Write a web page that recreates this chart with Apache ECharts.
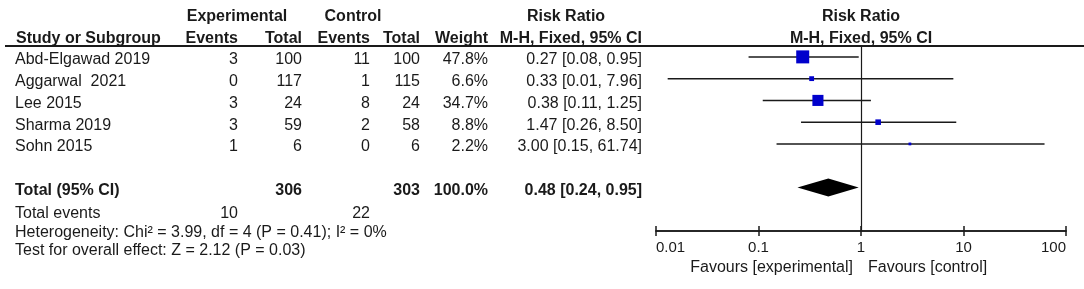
<!DOCTYPE html>
<html lang="en" style="height: 100%">
<head>
    <meta charset="UTF-8">
    <title>Forest plot</title>
    <script src="https://cdn.jsdelivr.net/npm/echarts@6/dist/echarts.min.js"></script>
</head>
<body style="height: 100%; margin: 0; background: #fff">
    <div id="main" style="width: 1084px; height: 289px"></div>
    <script>
        // study data
        var studies = ['Abd-Elgawad 2019', 'Aggarwal  2021', 'Lee 2015', 'Sharma 2019', 'Sohn 2015'];
        var expEvents = [3, 0, 3, 3, 1];
        var expTotal = [100, 117, 24, 59, 6];
        var ctlEvents = [11, 1, 8, 2, 0];
        var ctlTotal = [100, 115, 24, 58, 6];
        var weights = [47.8, 6.6, 34.7, 8.8, 2.2];
        var riskRatio = [0.27, 0.33, 0.38, 1.47, 3.00];
        var ciLow = [0.08, 0.013, 0.11, 0.26, 0.15];
        var ciHigh = [0.95, 7.96, 1.25, 8.50, 61.74];
        // pooled estimate [est, low, high]
        var pooled = [0.48, 0.24, 0.95];
        var tickLabels = ['0.01', '0.1', '1', '10', '100'];

        var FONT = '"Liberation Sans", Arial, sans-serif';
        var TXT = '#1a1a1a';
        var fs = 16;

        function sum(a) { return a.reduce(function (s, v) { return s + v; }, 0); }
        function fmtCI(e, l, h) {
            return e.toFixed(2) + ' [' + l.toFixed(2) + ', ' + h.toFixed(2) + ']';
        }

        var totalRow = studies.length + 1;   // one blank line before the pooled row
        var maxW = Math.max.apply(null, weights);

        // cells of each table line: study, exp events, exp total, ctl events, ctl total, weight, RR text
        var tableCells = studies.map(function (s, i) {
            return [s, String(expEvents[i]), String(expTotal[i]), String(ctlEvents[i]), String(ctlTotal[i]),
                weights[i].toFixed(1) + '%', fmtCI(riskRatio[i], ciLow[i], ciHigh[i])];
        });
        tableCells.push(['Total (95% CI)', '', String(sum(expTotal)), '', String(sum(ctlTotal)), '100.0%',
            fmtCI(pooled[0], pooled[1], pooled[2])]);
        var tableRowIdx = studies.map(function (s, i) { return i; }).concat([totalRow]);

        var colX = [15, 238, 302, 370, 420, 488, 642];

        var chart = echarts.init(document.getElementById('main'));

        function renderTable(params, api) {
            var i = params.dataIndex;
            var y = api.coord([1, api.value(0)])[1] + 3;
            var bold = i === studies.length;
            return {
                type: 'group',
                children: tableCells[i].map(function (c, k) {
                    return {
                        type: 'text',
                        style: {
                            text: c, x: colX[k], y: y,
                            align: k === 0 ? 'left' : 'right',
                            verticalAlign: 'middle',
                            font: (bold ? 'bold ' : '') + fs + 'px ' + FONT,
                            fill: TXT
                        }
                    };
                })
            };
        }

        function renderCI(params, api) {
            var a = api.coord([api.value(0), api.value(2)]);
            var b = api.coord([api.value(1), api.value(2)]);
            return {
                type: 'line',
                shape: { x1: a[0], y1: a[1], x2: b[0], y2: b[1] },
                style: { stroke: TXT, lineWidth: 1.5 }
            };
        }

        function renderDiamond(params, api) {
            var row = api.value(3);
            var c = api.coord([api.value(0), row]);
            var l = api.coord([api.value(1), row]);
            var r = api.coord([api.value(2), row]);
            var h = 9;
            return {
                type: 'polygon',
                shape: { points: [[l[0], l[1]], [c[0], c[1] - h], [r[0], r[1]], [c[0], c[1] + h]] },
                style: { fill: '#000' }
            };
        }

        function label(text, x, y, align, bold) {
            return {
                type: 'text', x: x, y: y,
                style: {
                    text: text, align: align, verticalAlign: 'middle',
                    font: (bold ? 'bold ' : '') + fs + 'px ' + FONT, fill: TXT
                }
            };
        }

        var plotGrid = { left: 656, right: 18, top: 46, height: 185 };
        var logAxisBase = {
            type: 'log', logBase: 10, min: 0.01, max: 100,
            position: 'bottom',
            splitLine: { show: false },
            minorTick: { show: false },
            axisLine: { show: true, onZero: false, lineStyle: { color: TXT, width: 1.5 } }
        };

        var option = {
            animation: false,
            backgroundColor: '#fff',
            // second grid only carries the inner half of the crossing ticks
            grid: [plotGrid, Object.assign({}, plotGrid)],
            xAxis: [
                Object.assign({}, logAxisBase, {
                    gridIndex: 0,
                    axisTick: { show: true, inside: false, length: 5, lineStyle: { color: TXT, width: 1.5 } },
                    axisLabel: {
                        show: true, margin: 9, color: TXT, fontSize: 15, fontFamily: FONT,
                        alignMinLabel: 'left', alignMaxLabel: 'right',
                        formatter: function (v, idx) { return tickLabels[idx]; }
                    }
                }),
                Object.assign({}, logAxisBase, {
                    gridIndex: 1,
                    axisTick: { show: true, inside: true, length: 5, lineStyle: { color: TXT, width: 1.5 } },
                    axisLabel: { show: false }
                })
            ],
            yAxis: [
                { gridIndex: 0, type: 'value', min: -0.5, max: 8, inverse: true, show: false },
                { gridIndex: 1, type: 'value', min: -0.5, max: 8, inverse: true, show: false }
            ],
            graphic: [
                { type: 'line', shape: { x1: 5, y1: 46, x2: 1084, y2: 46 }, style: { stroke: TXT, lineWidth: 2 } },
                label('Experimental', 237, 17, 'center', true),
                label('Control', 353, 17, 'center', true),
                label('Risk Ratio', 566, 17, 'center', true),
                label('Risk Ratio', 861, 17, 'center', true),
                label('Study or Subgroup', 16, 39, 'left', true),
                label('Events', 238, 39, 'right', true),
                label('Total', 302, 39, 'right', true),
                label('Events', 370, 39, 'right', true),
                label('Total', 420, 39, 'right', true),
                label('Weight', 488, 39, 'right', true),
                label('M-H, Fixed, 95% CI', 642, 39, 'right', true),
                label('M-H, Fixed, 95% CI', 861, 39, 'center', true),
                label('Total events', 15, 214, 'left', false),
                label(String(sum(expEvents)), 238, 214, 'right', false),
                label(String(sum(ctlEvents)), 370, 214, 'right', false),
                label('Heterogeneity: Chi\u00b2 = 3.99, df = 4 (P = 0.41); I\u00b2 = 0%', 15, 233, 'left', false),
                label('Test for overall effect: Z = 2.12 (P = 0.03)', 15, 251, 'left', false),
                label('Favours [experimental]', 853, 268, 'right', false),
                label('Favours [control]', 868, 268, 'left', false)
            ],
            series: [
                {
                    type: 'custom', name: 'table',
                    renderItem: renderTable,
                    encode: { y: 0 },
                    data: tableRowIdx.map(function (r) { return [r]; }),
                    silent: true, clip: false, z: 5
                },
                {
                    type: 'custom', name: 'ci',
                    renderItem: renderCI,
                    encode: { x: [0, 1], y: 2 },
                    data: studies.map(function (s, i) { return [ciLow[i], ciHigh[i], i]; }),
                    silent: true, z: 2
                },
                {
                    type: 'scatter', name: 'estimate',
                    symbol: 'rect',
                    symbolSize: function (v, p) { return 13 * Math.sqrt(weights[p.dataIndex] / maxW); },
                    itemStyle: { color: '#0000cc', opacity: 1 },
                    data: studies.map(function (s, i) { return [riskRatio[i], i]; }),
                    silent: true, z: 3,
                    markLine: {
                        silent: true, symbol: 'none',
                        label: { show: false },
                        lineStyle: { color: TXT, width: 1.2, type: 'solid' },
                        data: [{ xAxis: 1 }]
                    }
                },
                {
                    type: 'custom', name: 'pooled',
                    renderItem: renderDiamond,
                    encode: { x: [0, 1, 2], y: 3 },
                    data: [[pooled[0], pooled[1], pooled[2], totalRow]],
                    silent: true, z: 3
                }
            ]
        };
        chart.setOption(option);
    </script>
</body>
</html>
